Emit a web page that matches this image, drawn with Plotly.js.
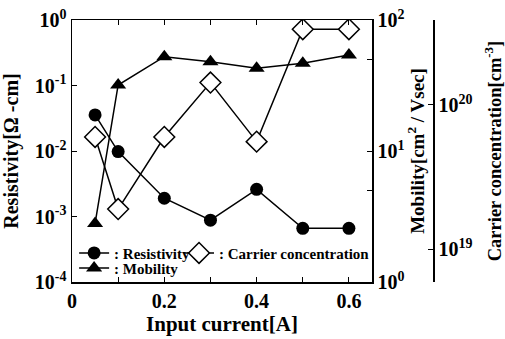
<!DOCTYPE html>
<html>
<head>
<meta charset="utf-8">
<script src="https://cdn.plot.ly/plotly-3.0.1.min.js"></script>
<style>html,body{margin:0;padding:0;background:#fff;}#chart{width:505px;height:339px;}</style>
</head>
<body>
<div id="chart"></div>
<script>
const current = [0.05, 0.1, 0.2, 0.3, 0.4, 0.5, 0.6];
const resistivity = [0.0355, 0.0098, 0.0019, 0.00088, 0.0026, 0.00066, 0.00066];
const mobility = [2.8, 31.9, 52.5, 48, 42.8, 46.7, 54];
const carrier = [6.0e19, 1.9e19, 6.0e19, 1.43e20, 5.57e19, 3.35e20, 3.35e20];

const xTickVals = [0, 0.1, 0.2, 0.3, 0.4, 0.5, 0.6];
const xTickText = ['0', '', '0.2', '', '0.4', '', '0.6'];
const resTickVals = [1e-4, 1e-3, 1e-2, 1e-1, 1];
const resTickText = ['10<sup>-4</sup>', '10<sup>-3</sup>', '10<sup>-2</sup>', '10<sup>-1</sup>', '10<sup>0</sup>'];
const mobTickVals = [1, 5, 10, 50, 100];
const mobTickText = ['10<sup>0</sup>', '', '10<sup>1</sup>', '', '10<sup>2</sup>'];
const carTickVals = [1e19, 1e20];
const carTickText = ['10<sup>19</sup>', '10<sup>20</sup>'];

const F = 'Liberation Serif, Times New Roman, serif';
const tickFont = {family: F, size: 20, color: '#000', weight: 'bold'};
const titleFont = {family: F, size: 19, color: '#000', weight: 'bold'};
const legFont = {family: F, size: 15, color: '#000', weight: 'bold'};

const traces = [
  {x: current, y: resistivity, name: ': Resistivity', type: 'scatter', mode: 'lines+markers', yaxis: 'y', legend: 'legend',
   line: {color: '#000', width: 1.5}, marker: {symbol: 'circle', size: 13, color: '#000'}},
  {x: current, y: mobility, name: ': Mobility', type: 'scatter', mode: 'lines+markers', yaxis: 'y2', legend: 'legend2',
   line: {color: '#000', width: 1.5}, marker: {symbol: 'triangle-up', size: 14, color: '#000'}},
  {x: current, y: carrier, name: ': Carrier concentration', type: 'scatter', mode: 'lines+markers', yaxis: 'y3', legend: 'legend3',
   line: {color: '#000', width: 1.5}, marker: {symbol: 'diamond', size: 16, color: '#fff', line: {color: '#000', width: 1.5}}}
];

const layout = {
  width: 505, height: 339,
  margin: {l: 72, r: 10, t: 20, b: 57},
  paper_bgcolor: '#fff', plot_bgcolor: '#fff',
  showlegend: true,
  xaxis: {domain: [0, 300/423], range: [0, 0.65], tickvals: xTickVals, ticktext: xTickText,
    ticks: 'inside', ticklen: 5, tickcolor: '#000', showline: true, linecolor: '#000', linewidth: 1.5,
    mirror: 'ticks', showgrid: false, zeroline: false, tickfont: tickFont,
    title: {text: 'Input current[A]', font: {family: F, size: 21, color: '#000', weight: 'bold'}, standoff: 6}},
  yaxis: {type: 'log', range: [-4, 0], tickvals: resTickVals, ticktext: resTickText,
    ticks: 'inside', ticklen: 5, tickcolor: '#000', showline: true, linecolor: '#000', linewidth: 1.5,
    showgrid: false, zeroline: false, tickfont: tickFont,
    title: {text: 'Resistivity[Ω -cm]', font: {family: F, size: 20, color: '#000', weight: 'bold'}, standoff: 12}},
  yaxis2: {type: 'log', range: [0, 2], overlaying: 'y', side: 'right', anchor: 'x',
    tickvals: mobTickVals, ticktext: mobTickText,
    ticks: 'inside', ticklen: 5, tickcolor: '#000', showline: true, linecolor: '#000', linewidth: 1.5,
    showgrid: false, zeroline: false, tickfont: tickFont,
    title: {text: 'Mobility[cm<sup>2</sup> / Vsec]', font: titleFont, standoff: 4}},
  yaxis3: {type: 'log', range: [18.773, 20.589], overlaying: 'y', side: 'right', anchor: 'free', position: 361/423,
    tickvals: carTickVals, ticktext: carTickText,
    ticks: 'inside', ticklen: 5, tickcolor: '#000', showline: true, linecolor: '#000', linewidth: 1.5,
    showgrid: false, zeroline: false, tickfont: tickFont,
    title: {text: 'Carrier concentration[cm<sup>-3</sup>]', font: {family: F, size: 18.5, color: '#000', weight: 'bold'}, standoff: 16}},
  legend: {x: 0.005, y: 0.173, xanchor: 'left', yanchor: 'top', orientation: 'h', bgcolor: 'rgba(0,0,0,0)',
    font: legFont, borderwidth: 0},
  legend2: {x: 0.005, y: 0.115, xanchor: 'left', yanchor: 'top', orientation: 'h', bgcolor: 'rgba(0,0,0,0)',
    font: legFont, borderwidth: 0},
  legend3: {x: 0.253, y: 0.173, xanchor: 'left', yanchor: 'top', orientation: 'h', bgcolor: 'rgba(0,0,0,0)',
    font: legFont, borderwidth: 0}
};

Plotly.newPlot('chart', traces, layout, {displayModeBar: false, staticPlot: true});
</script>
</body>
</html>
